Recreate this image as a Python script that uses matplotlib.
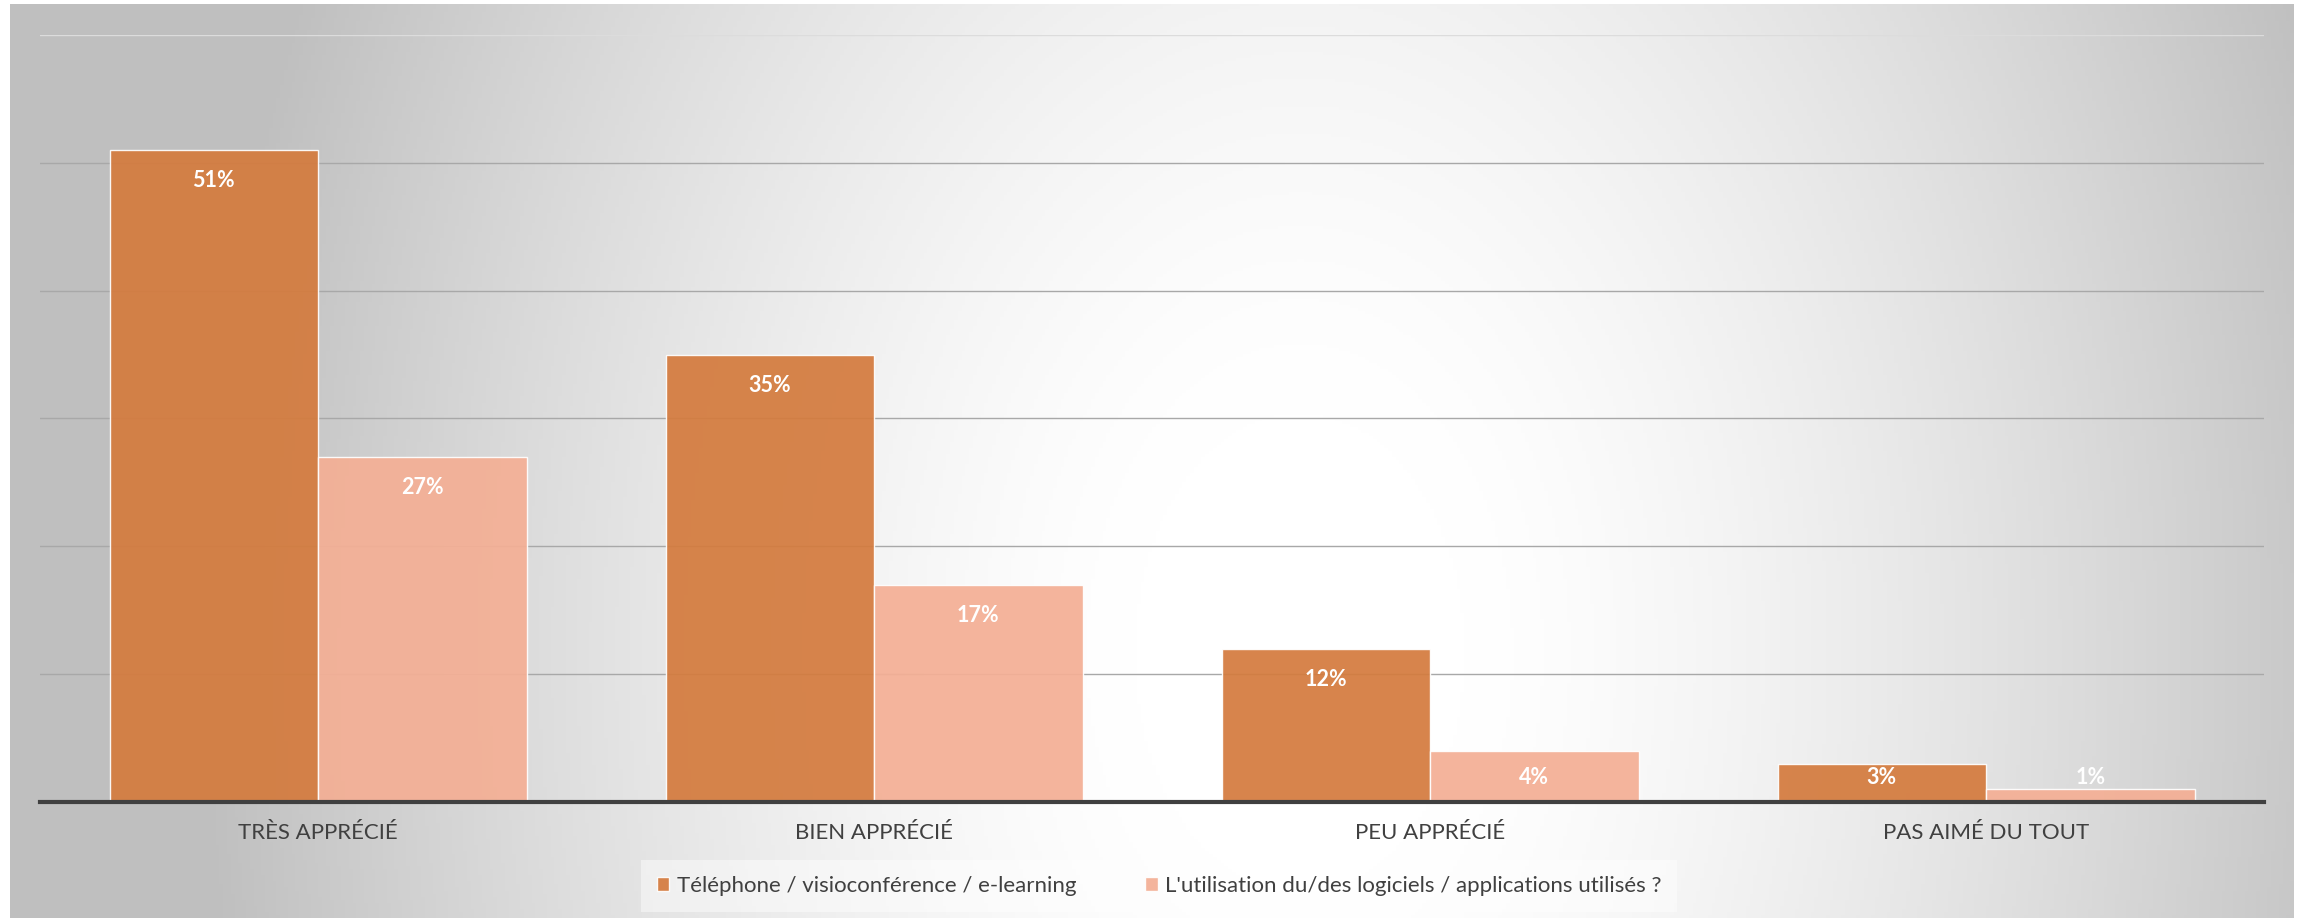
import numpy as np
import matplotlib.pyplot as plt

# data
categories = ["TRÈS APPRÉCIÉ", "BIEN APPRÉCIÉ", "PEU APPRÉCIÉ", "PAS AIMÉ DU TOUT"]
telephone = [51, 35, 12, 3]
logiciels = [27, 17, 4, 1]
series_names = ["Téléphone / visioconférence / e-learning",
                "L'utilisation du/des logiciels / applications utilisés ?"]

plt.rcParams['font.family'] = ['Lato', 'DejaVu Sans']

W, H = 2305, 921
fig = plt.figure(figsize=(W / 100, H / 100), dpi=100, facecolor='white')

# radial grey -> white background of the chart area
bg = fig.add_axes([10 / W, 3 / H, 2284 / W, 914 / H], zorder=0)
xx, yy = np.meshgrid(np.linspace(0, 2284, 600), np.linspace(0, 914, 300))
r = np.sqrt(((xx - 1290) / 1100) ** 2 + ((yy - 650) / 1600) ** 2)
t = np.clip((r - 0.15) / 0.85, 0, 1) ** 1.4
g = 1 - 0.25 * t
bg.imshow(np.dstack([g, g, g]), aspect='auto', extent=[0, 1, 0, 1], origin='upper')
bg.axis('off')

ax = fig.add_axes([40 / W, (H - 802) / H, 2224 / W, 767 / H], zorder=1)
ax.patch.set_alpha(0)

x = np.arange(len(categories))
w = 0.375
b1 = ax.bar(x - w / 2, telephone, w, color='#D47B3E', alpha=0.93,
            edgecolor=(1, 1, 1, 0.45), linewidth=1, label=series_names[0], zorder=3)
b2 = ax.bar(x + w / 2, logiciels, w, color='#F4AF95', alpha=0.93,
            edgecolor=(1, 1, 1, 0.45), linewidth=1, label=series_names[1], zorder=3)

for bars, vals in [(b1, telephone), (b2, logiciels)]:
    for rect, v in zip(bars, vals):
        ax.text(rect.get_x() + rect.get_width() / 2, max(v - 2.4, 1.9), f"{v}%",
                ha='center', va='center', color='white', fontsize=15.5,
                fontweight='bold', zorder=4)

ax.set_xlim(-0.5, 3.5)
ax.set_ylim(0, 60)
ax.set_yticks(np.arange(0, 61, 10))
ax.set_yticklabels([])
ax.tick_params(axis='y', length=0)
ax.yaxis.grid(True, color='#a8a8a8', linewidth=1, zorder=1)
ax.set_axisbelow(True)
ax.get_ygridlines()[-1].set_color('#dcdcdc')

ax.set_xticks(x)
ax.set_xticklabels(categories, fontsize=16, color='#404040')
ax.tick_params(axis='x', length=0, pad=15)

for s in ['top', 'left', 'right']:
    ax.spines[s].set_visible(False)
ax.spines['bottom'].set_linewidth(3)
ax.spines['bottom'].set_color('#404040')
ax.spines['bottom'].set_zorder(5)

leg = fig.legend(handles=[b1, b2], loc='center', bbox_to_anchor=(0.503, 0.038),
                 ncol=2, frameon=True, fontsize=16, handlelength=0.55,
                 handleheight=0.55, handletextpad=0.35, columnspacing=3.1,
                 borderpad=0.4)
leg.get_frame().set_facecolor('white')
leg.get_frame().set_alpha(0.45)
leg.get_frame().set_edgecolor('none')
leg.get_frame().set_boxstyle('square')
for txt in leg.get_texts():
    txt.set_color('#404040')

fig.savefig('out.png', dpi=100, facecolor='white')
